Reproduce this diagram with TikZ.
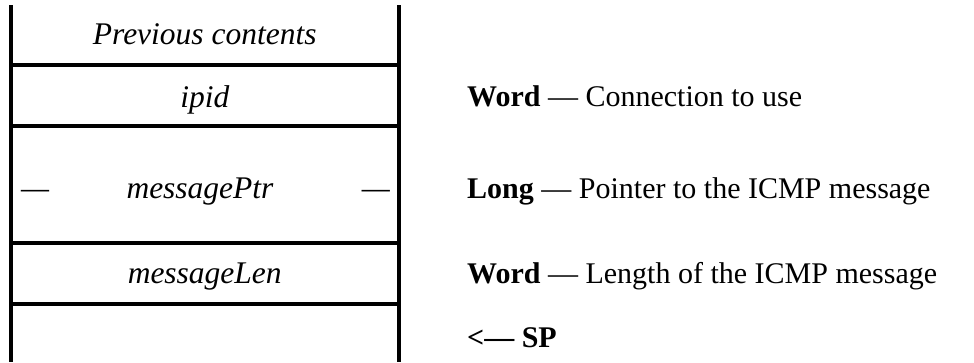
\documentclass[tikz,border=0pt]{standalone}
\usepackage{fontspec}
\setmainfont{Liberation Serif}
\begin{document}
\begin{tikzpicture}[x=1pt,y=-1pt,
  frame/.style={line width=4pt},
  cell/.style={font=\fontsize{31.5}{38}\selectfont\itshape, anchor=base, inner sep=0pt},
  desc/.style={font=\fontsize{30}{36}\selectfont, anchor=base west, inner sep=0pt}]
\useasboundingbox (0,0) rectangle (974,362);
% frame
\draw[frame] (10.5,5) -- (10.5,362);
\draw[frame] (399,5) -- (399,362);
\foreach \yy in {64.5,125.5,242.5,304}
  \draw[frame] (10.5,\yy) -- (399,\yy);
% cell texts
\node[cell] (prev) at (204.75,44) {Previous contents};
\node[cell] (ipid) at (204.75,107) {ipid};
\node[cell] (mptr) at (200,198) {messagePtr};
\node[cell,anchor=base west] (dl) at (21,198) {—};
\node[cell,anchor=base east] (dr) at (390,198) {—};
\node[cell] (mlen) at (204.75,283) {messageLen};
% descriptions
\node[desc] (d1) at (467,106) {\textbf{Word} — Connection to use};
\node[desc] (d2) at (467,198) {\textbf{Long} — Pointer to the ICMP message};
\node[desc] (d3) at (467,283) {\textbf{Word} — Length of the ICMP message};
\node[desc] (d4) at (467,347) {\textbf{<— SP}};
\end{tikzpicture}
\end{document}
